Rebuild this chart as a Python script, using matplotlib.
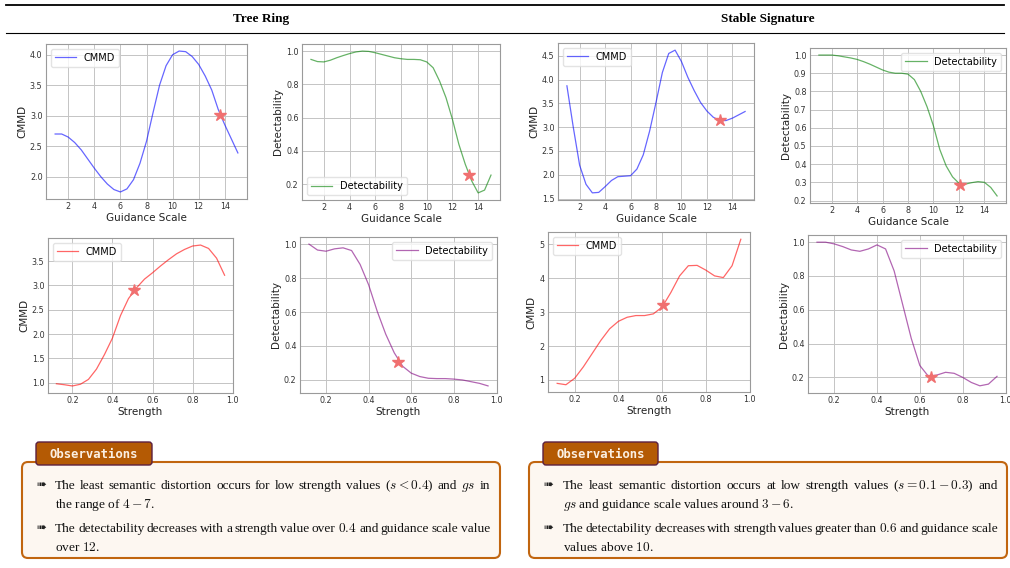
import matplotlib
matplotlib.use("Agg")
import matplotlib.pyplot as plt
from matplotlib.ticker import MultipleLocator
from matplotlib.patches import FancyBboxPatch

plt.rcParams['font.family'] = ['DejaVu Sans']
plt.rcParams['mathtext.fontset'] = 'cm'

# ---------------- data ----------------
gs = [1.0, 1.5, 2.0, 2.5, 3.0, 3.5, 4.0, 4.5, 5.0, 5.5, 6.0, 6.5, 7.0, 7.5, 8.0,
      8.5, 9.0, 9.5, 10.0, 10.5, 11.0, 11.5, 12.0, 12.5, 13.0, 13.5, 14.0, 14.5, 15.0]
tr_cmmd_gs = [2.70, 2.70, 2.65, 2.56, 2.44, 2.29, 2.14, 2.00, 1.88, 1.79, 1.75, 1.80, 1.95, 2.22, 2.58,
              3.05, 3.50, 3.82, 4.00, 4.06, 4.05, 3.97, 3.84, 3.65, 3.42, 3.10, 2.85, 2.62, 2.39]
tr_det_gs = [0.950, 0.937, 0.935, 0.945, 0.960, 0.973, 0.985, 0.995, 1.000, 0.998, 0.990, 0.980, 0.970, 0.960, 0.954,
             0.950, 0.950, 0.948, 0.935, 0.900, 0.820, 0.720, 0.590, 0.440, 0.320, 0.220, 0.148, 0.165, 0.255]
ss_cmmd_gs = [3.87, 3.00, 2.20, 1.80, 1.62, 1.63, 1.75, 1.88, 1.96, 1.97, 1.98, 2.12, 2.42, 2.92, 3.52,
              4.15, 4.55, 4.62, 4.38, 4.05, 3.77, 3.52, 3.34, 3.21, 3.14, 3.14, 3.19, 3.26, 3.33]
ss_det_gs = [1.000, 1.000, 1.000, 0.996, 0.990, 0.984, 0.976, 0.964, 0.950, 0.934, 0.918, 0.906, 0.900, 0.900, 0.895,
             0.865, 0.800, 0.715, 0.610, 0.480, 0.390, 0.330, 0.295, 0.290, 0.298, 0.304, 0.300, 0.272, 0.225]

strength = [0.12, 0.16, 0.20, 0.24, 0.28, 0.32, 0.36, 0.40, 0.44, 0.48, 0.52,
            0.56, 0.60, 0.64, 0.68, 0.72, 0.76, 0.80, 0.84, 0.88, 0.92, 0.96]
tr_cmmd_s = [0.98, 0.96, 0.935, 0.97, 1.07, 1.28, 1.58, 1.92, 2.38, 2.73, 2.95,
             3.13, 3.26, 3.40, 3.53, 3.65, 3.74, 3.81, 3.83, 3.76, 3.56, 3.21]
tr_det_s = [1.00, 0.965, 0.958, 0.972, 0.978, 0.962, 0.88, 0.76, 0.605, 0.47, 0.36,
            0.28, 0.24, 0.22, 0.21, 0.208, 0.208, 0.205, 0.200, 0.190, 0.180, 0.165]
ss_cmmd_s = [0.90, 0.86, 1.05, 1.39, 1.78, 2.17, 2.51, 2.73, 2.85, 2.90, 2.90,
             2.95, 3.15, 3.58, 4.07, 4.37, 4.38, 4.24, 4.07, 4.02, 4.37, 5.15]
ss_det_s = [1.00, 1.00, 0.99, 0.974, 0.954, 0.946, 0.960, 0.984, 0.960, 0.83, 0.63,
            0.43, 0.27, 0.206, 0.214, 0.230, 0.224, 0.200, 0.170, 0.150, 0.160, 0.206]

# optimal points (stars)
stars = {
    'tr_cmmd_gs': (13.6, 3.01),
    'tr_det_gs': (13.3, 0.255),
    'ss_cmmd_gs': (13.05, 3.15),
    'ss_det_gs': (12.1, 0.285),
    'tr_cmmd_s': (0.51, 2.91),
    'tr_det_s': (0.538, 0.307),
    'ss_cmmd_s': (0.606, 3.21),
    'ss_det_s': (0.654, 0.20),
}

col_titles = ["Tree Ring", "Stable Signature"]
obs_left = [
    ["The least semantic distortion occurs for low strength values ($s < 0.4$) and $gs$ in",
     "the range of $4 - 7$."],
    ["The detectability decreases with a strength value over $0.4$ and guidance scale value",
     "over $12$."],
]
obs_right = [
    ["The least semantic distortion occurs at low strength values ($s = 0.1 - 0.3$) and",
     "$gs$ and guidance scale values around $3 - 6$."],
    ["The detectability decreases with strength values greater than $0.6$ and guidance scale",
     "values above $10$."],
]

# ---------------- figure ----------------
W, H = 1010, 568
fig = plt.figure(figsize=(W / 100, H / 100), dpi=100)
fig.patch.set_facecolor('white')


def ax_px(x0, y0, x1, y1):
    return fig.add_axes([x0 / W, 1 - y1 / H, (x1 - x0) / W, (y1 - y0) / H])


def style(ax, xlabel, ylabel, xstep, ystep):
    ax.grid(True, color='#c4c4c4', linewidth=0.7)
    ax.set_axisbelow(True)
    for s in ax.spines.values():
        s.set_color('#9a9a9a')
        s.set_linewidth(0.8)
    ax.tick_params(length=0, labelsize=5.8, pad=2.5, labelcolor='#333333')
    ax.xaxis.set_major_locator(MultipleLocator(xstep))
    ax.yaxis.set_major_locator(MultipleLocator(ystep))
    ax.set_xlabel(xlabel, fontsize=7.5, labelpad=1, color='#222222')
    ax.set_ylabel(ylabel, fontsize=7.5, labelpad=2, color='#222222')


def panel(box, x, y, color, label, star, xlabel, ylabel, xstep, ystep, loc):
    ax = ax_px(*box)
    ax.plot(x, y, color=color, alpha=0.6, linewidth=0.9, label=label)
    ax.plot([star[0]], [star[1]], marker='*', color='#f07070', markersize=9,
            linestyle='none', zorder=5)
    style(ax, xlabel, ylabel, xstep, ystep)
    ax.legend(loc=loc, fontsize=7, framealpha=0.8, edgecolor='#dddddd',
              borderpad=0.4, handlelength=2.2)
    return ax


panel((46, 44, 247, 199), gs, tr_cmmd_gs, 'blue', 'CMMD', stars['tr_cmmd_gs'],
      'Guidance Scale', 'CMMD', 2, 0.5, 'upper left')
panel((302, 44, 500, 200), gs, tr_det_gs, 'green', 'Detectability', stars['tr_det_gs'],
      'Guidance Scale', 'Detectability', 2, 0.2, 'lower left')
panel((558, 43, 754, 200), gs, ss_cmmd_gs, 'blue', 'CMMD', stars['ss_cmmd_gs'],
      'Guidance Scale', 'CMMD', 2, 0.5, 'upper left')
panel((810, 48, 1006, 203), gs, ss_det_gs, 'green', 'Detectability', stars['ss_det_gs'],
      'Guidance Scale', 'Detectability', 2, 0.1, 'upper right')

panel((48, 238, 233, 393), strength, tr_cmmd_s, 'red', 'CMMD', stars['tr_cmmd_s'],
      'Strength', 'CMMD', 0.2, 0.5, 'upper left')
panel((300, 237, 497, 393), strength, tr_det_s, 'purple', 'Detectability', stars['tr_det_s'],
      'Strength', 'Detectability', 0.2, 0.2, 'upper right')
panel((548, 232, 750, 392), strength, ss_cmmd_s, 'red', 'CMMD', stars['ss_cmmd_s'],
      'Strength', 'CMMD', 0.2, 1, 'upper left')
panel((808, 235, 1006, 393), strength, ss_det_s, 'purple', 'Detectability', stars['ss_det_s'],
      'Strength', 'Detectability', 0.2, 0.2, 'upper right')

# ---------------- overlay (pixel coordinates) ----------------
ov = fig.add_axes([0, 0, 1, 1], zorder=-1)
ov.set_xlim(0, W)
ov.set_ylim(H, 0)
ov.axis('off')

ov2 = fig.add_axes([0, 0, 1, 1], zorder=10)
ov2.set_xlim(0, W)
ov2.set_ylim(H, 0)
ov2.axis('off')
ov2.patch.set_alpha(0)

# header rules and titles
ov.plot([6, 1004], [4.5, 4.5], color='black', linewidth=1.3)
ov.plot([6, 1004], [33, 33], color='black', linewidth=0.8)
for cx, t in zip([261, 768], col_titles):
    ov.text(cx, 19, t, ha='center', va='center', fontsize=9.5, fontweight='bold',
            family=['Liberation Serif'])

renderer = fig.canvas.get_renderer()
TXT_KW = dict(ha='left', va='baseline', fontsize=9.6,
              family=['Liberation Serif', 'DejaVu Sans'], color='#111111')


def tokens(line):
    out, cur, inmath = [], '', False
    for ch in line:
        if ch == '$':
            inmath = not inmath
        if ch == ' ' and not inmath:
            out.append(cur)
            cur = ''
        else:
            cur += ch
    out.append(cur)
    return out


def justified(x0, x1, y, line):
    words = tokens(line)
    arts, widths = [], []
    for w in words:
        t = ov2.text(0, y, w, **TXT_KW)
        bb = t.get_window_extent(renderer=renderer)
        arts.append(t)
        widths.append(bb.width)
    gap = (x1 - x0 - sum(widths)) / (len(words) - 1)
    x = x0
    for t, w in zip(arts, widths):
        t.set_x(x)
        x += w + gap


def obs_box(x0, x1, tag_x0, tag_x1, lines, bx, tx, right):
    box = FancyBboxPatch((x0, 462), x1 - x0, 96, boxstyle='round,pad=0,rounding_size=6',
                         facecolor='#fdf7f1', edgecolor='#c1650f', linewidth=1.5)
    ov2.add_patch(box)
    tag = FancyBboxPatch((tag_x0, 442), tag_x1 - tag_x0, 23, boxstyle='round,pad=0,rounding_size=3',
                         facecolor='#b45a04', edgecolor='#5b2040', linewidth=1.0)
    ov2.add_patch(tag)
    ov2.text((tag_x0 + tag_x1) / 2, 454, 'Observations', ha='center', va='center',
             fontsize=8.8, fontweight='bold', family=['DejaVu Sans Mono'], color='#fbefe2')
    ys = [[489, 508], [532, 551]]
    for item, yy in zip(lines, ys):
        ov2.text(bx, yy[0] - 4, '\u27a0', ha='left', va='center', fontsize=8.5,
                 family=['DejaVu Sans'], color='#222222')
        justified(tx, right, yy[0], item[0])
        ov2.text(tx, yy[1], item[1], **TXT_KW)


obs_box(22, 500, 36, 152, obs_left, 36, 55, 490)
obs_box(529, 1007, 543, 658, obs_right, 543, 563, 998)

fig.savefig('out.png', dpi=100)
